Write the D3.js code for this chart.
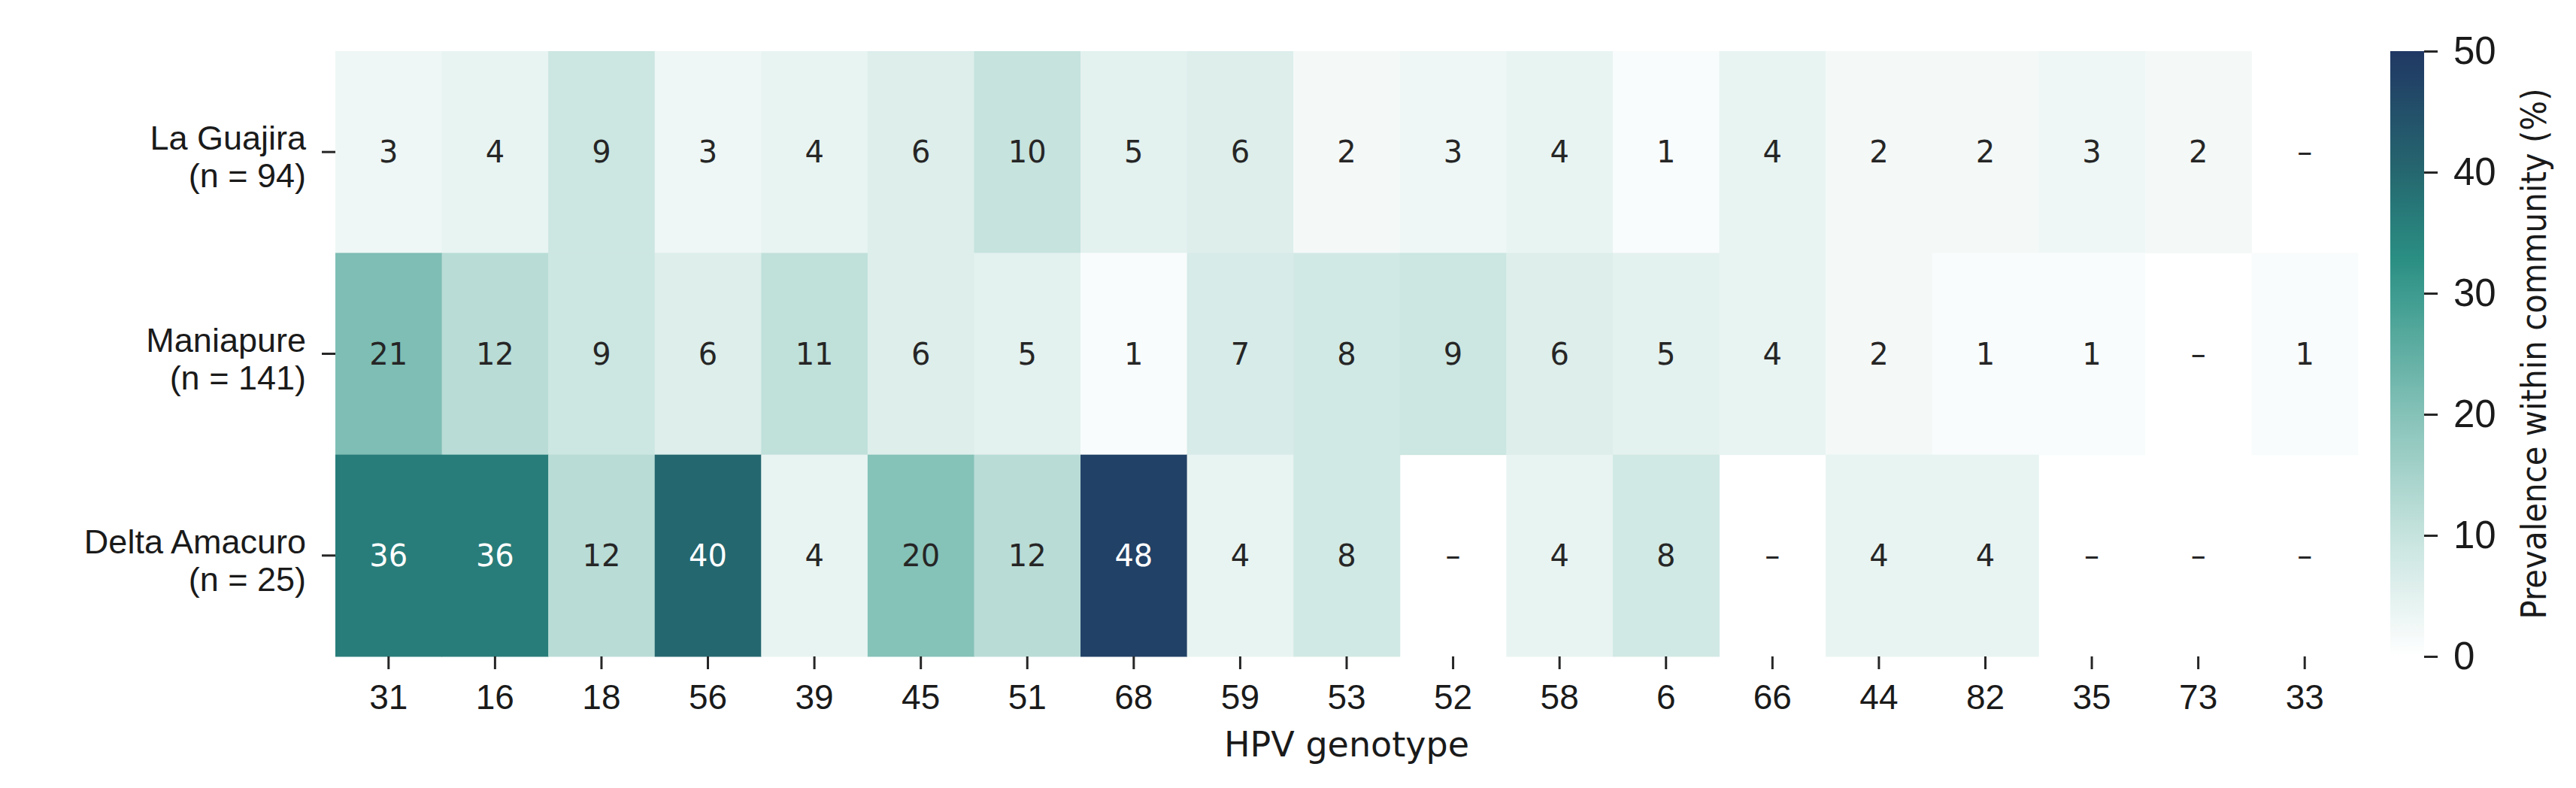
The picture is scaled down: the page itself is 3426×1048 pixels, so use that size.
<!DOCTYPE html>
<html lang="en">
<head>
<meta charset="utf-8">
<title>HPV genotype prevalence</title>
<script src="https://cdn.jsdelivr.net/npm/d3@7"></script>
<style>
  html, body { margin: 0; padding: 0; background: #fff; }
  svg { display: block; font-family: "DejaVu Sans", sans-serif; }
  .axis path.domain { display: none; }
  .axis line { stroke: #262626; stroke-width: 3; }
  .axis text { fill: #1a1a1a; }
</style>
</head>
<body>
<script>
// data (prevalence %, null = no cases, shown as "–")
var genotypes = ["31", "16", "18", "56", "39", "45", "51", "68", "59", "53", "52", "58", "6", "66", "44", "82", "35", "73", "33"];
var communities = ["La Guajira", "Maniapure", "Delta Amacuro"];
var sampleSizes = [94, 141, 25];
var laGuajira    = [3, 4, 9, 3, 4, 6, 10, 5, 6, 2, 3, 4, 1, 4, 2, 2, 3, 2, null];
var maniapure    = [21, 12, 9, 6, 11, 6, 5, 1, 7, 8, 9, 6, 5, 4, 2, 1, 1, null, 1];
var deltaAmacuro = [36, 36, 12, 40, 4, 20, 12, 48, 4, 8, null, 4, 8, null, 4, 4, null, null, null];
var colorbarTicks = [0, 10, 20, 30, 40, 50];

var rows = [laGuajira, maniapure, deltaAmacuro];

var W = 3426, H = 1048;
var hmLeft = 446, hmRight = 3136, hmTop = 68, hmBottom = 873;

var svg = d3.select("body").append("svg")
  .attr("width", W)
  .attr("height", H);

var x = d3.scaleBand().domain(genotypes).range([hmLeft, hmRight]);
var y = d3.scaleBand().domain(communities).range([hmTop, hmBottom]);

// white -> teal -> navy
var color = d3.scaleLinear()
  .domain([0, 10, 20, 30, 33, 40, 50])
  .range(["#ffffff", "#c6e3de", "#85c2b8", "#3d9b8f", "#2a8e83", "#25676f", "#203864"])
  .clamp(true);

var cells = [];
rows.forEach(function (vals, i) {
  vals.forEach(function (v, j) {
    cells.push({ community: communities[i], genotype: genotypes[j], value: v });
  });
});

var g = svg.append("g");

g.selectAll("rect")
  .data(cells.filter(function (d) { return d.value !== null; }))
  .enter()
  .append("rect")
  .attr("x", function (d) { return x(d.genotype); })
  .attr("y", function (d) { return y(d.community); })
  .attr("width", x.bandwidth() + 0.5)
  .attr("height", y.bandwidth() + 0.5)
  .attr("fill", function (d) { return color(d.value); });

g.selectAll("text")
  .data(cells)
  .enter()
  .append("text")
  .attr("x", function (d) { return x(d.genotype) + x.bandwidth() / 2; })
  .attr("y", function (d) { return y(d.community) + y.bandwidth() / 2; })
  .attr("text-anchor", "middle")
  .attr("dominant-baseline", "central")
  .attr("font-size", 40)
  .attr("fill", function (d) { return d.value !== null && d.value >= 30 ? "#ffffff" : "#262626"; })
  .text(function (d) { return d.value === null ? "\u2013" : d.value; });

// x axis
var axisX = d3.axisBottom(x).tickSize(17).tickPadding(20);
var gx = svg.append("g")
  .attr("class", "axis")
  .attr("transform", "translate(0," + hmBottom + ")")
  .call(axisX);
gx.selectAll("text").attr("font-size", 46);

svg.append("text")
  .attr("x", (hmLeft + hmRight) / 2)
  .attr("y", 1006)
  .attr("text-anchor", "middle")
  .attr("font-size", 46)
  .attr("fill", "#1a1a1a")
  .text("HPV genotype");

// y axis with two-line labels
var axisY = d3.axisLeft(y).tickSize(18).tickPadding(21);
var gy = svg.append("g")
  .attr("class", "axis")
  .attr("transform", "translate(" + hmLeft + ",0)")
  .call(axisY);
gy.selectAll("text").each(function (d, i) {
  var t = d3.select(this).text(null).attr("font-size", 45).attr("dy", null);
  t.append("tspan").attr("x", -39).attr("dy", -3).text(d);
  t.append("tspan").attr("x", -39).attr("dy", 50).text("(n = " + sampleSizes[i] + ")");
});

// colorbar
var cbX = 3179, cbW = 45;
var cbScale = d3.scaleLinear().domain([0, 50]).range([hmBottom, hmTop]);

var grad = svg.append("defs").append("linearGradient")
  .attr("id", "cbgrad")
  .attr("x1", 0).attr("y1", 1).attr("x2", 0).attr("y2", 0);
grad.selectAll("stop")
  .data(d3.range(0, 51, 1))
  .enter()
  .append("stop")
  .attr("offset", function (d) { return d / 50; })
  .attr("stop-color", function (d) { return color(d); });

svg.append("rect")
  .attr("x", cbX)
  .attr("y", hmTop)
  .attr("width", cbW)
  .attr("height", hmBottom - hmTop)
  .attr("fill", "url(#cbgrad)");

var axisC = d3.axisRight(cbScale).tickValues(colorbarTicks).tickSize(18).tickPadding(21);
var gc = svg.append("g")
  .attr("class", "axis")
  .attr("transform", "translate(" + (cbX + cbW) + ",0)")
  .call(axisC);
gc.selectAll("text").attr("font-size", 51);

svg.append("text")
  .attr("transform", "translate(3386," + ((hmTop + hmBottom) / 2) + ") rotate(-90)")
  .attr("text-anchor", "middle")
  .attr("font-size", 46)
  .attr("textLength", 706)
  .attr("lengthAdjust", "spacingAndGlyphs")
  .attr("fill", "#1a1a1a")
  .text("Prevalence within community (%)");
</script>
</body>
</html>
